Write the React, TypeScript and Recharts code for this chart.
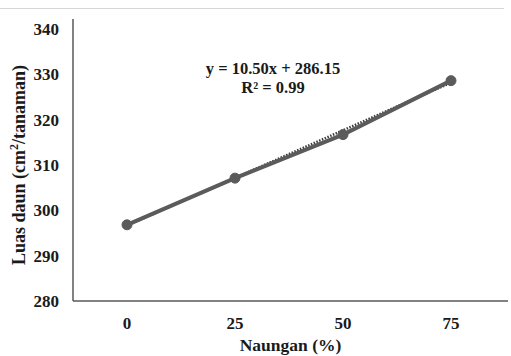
import * as React from 'react';
import { LineChart, Line, XAxis, YAxis, Customized } from 'recharts';

// Naungan (%) categories
const shadeLevels = ['0', '25', '50', '75'];
// Luas daun (cm2/tanaman)
const leafArea = [296.8, 307.1, 316.7, 328.6];
// linear trend y = 10.50x + 286.15 at x = 1..4
const trendArea = [296.65, 307.15, 317.65, 328.15];
const yTicks = [280, 290, 300, 310, 320, 330, 340];
const equationText = 'y = 10.50x + 286.15';
const r2Text = 'R² = 0.99';

const data = shadeLevels.map((s, i) => ({ shade: s, area: leafArea[i], trend: trendArea[i] }));

const fontFamily = '"Liberation Serif", "Times New Roman", serif';
const textColor = '#1a1a1a';
const axisColor = '#595959';
const lineColor = '#5b5b5b';

const YTitle = (props: any) => {
  const vb = props.viewBox || {};
  const x = vb.x + 25;
  const y = vb.y + vb.height / 2 + 5;
  return (
    <text
      x={x}
      y={y}
      transform={`rotate(-90, ${x}, ${y})`}
      textAnchor="middle"
      fontFamily={fontFamily}
      fontWeight="bold"
      fontSize={18}
      fill={textColor}
    >
      Luas daun (cm<tspan baselineShift="super" fontSize={12}>2</tspan>/tanaman)
    </text>
  );
};

const XTitle = (props: any) => {
  const vb = props.viewBox || {};
  return (
    <text
      x={vb.x + vb.width / 2}
      y={vb.y + 50}
      textAnchor="middle"
      fontFamily={fontFamily}
      fontWeight="bold"
      fontSize={17.5}
      fill={textColor}
    >
      Naungan (%)
    </text>
  );
};

const Equation = () => (
  <g fontFamily={fontFamily} fontWeight="bold" fontSize={16.5} fill={textColor}>
    <text x={273} y={74} textAnchor="middle">{equationText}</text>
    <text x={273} y={93} textAnchor="middle">{r2Text}</text>
  </g>
);

export default function App() {
  return (
    <div style={{ position: 'relative', width: 511, height: 356, background: '#fff' }}>
      <style>{`body{margin:0;background:#fff}`}</style>
      <div style={{ position: 'absolute', left: 0, top: 8, width: 504, height: 1, background: '#d6d6d6' }} />
      <LineChart width={511} height={356} data={data} margin={{ top: 19, right: 3, bottom: 0, left: 0 }}>
        <XAxis
          dataKey="shade"
          height={55}
          padding={{ left: 54, right: 57 }}
          tickLine={false}
          tickSize={0}
          tickMargin={16}
          axisLine={{ stroke: axisColor, strokeWidth: 1.5 }}
          tick={{ fontFamily, fontWeight: 'bold', fontSize: 17, fill: textColor }}
          label={<XTitle />}
        />
        <YAxis
          width={73}
          domain={[280, 342.2]}
          ticks={yTicks}
          allowDataOverflow
          tickLine={false}
          tickSize={0}
          tickMargin={14}
          axisLine={{ stroke: axisColor, strokeWidth: 1.5 }}
          tick={{ fontFamily, fontWeight: 'bold', fontSize: 17, fill: textColor }}
          label={<YTitle />}
        />
        <Line
          type="linear"
          dataKey="trend"
          stroke="#3a3a3a"
          strokeWidth={2.5}
          strokeDasharray="1.5 1.5"
          dot={false}
          isAnimationActive={false}
        />
        <Line
          type="linear"
          dataKey="area"
          stroke={lineColor}
          strokeWidth={4}
          dot={{ r: 5, fill: lineColor, stroke: lineColor, strokeWidth: 1 }}
          activeDot={false}
          isAnimationActive={false}
        />
        <Customized component={Equation} />
      </LineChart>
    </div>
  );
}
